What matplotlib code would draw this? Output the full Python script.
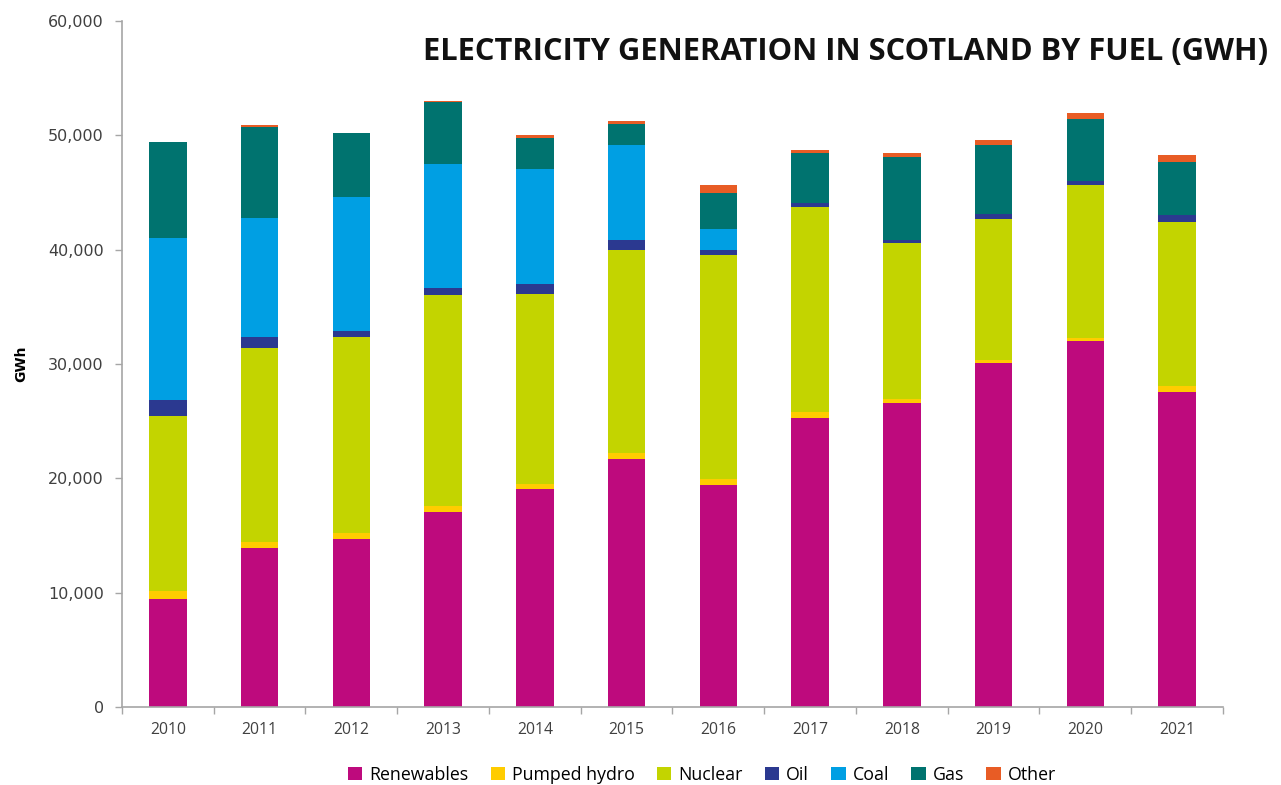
import numpy as np
import matplotlib
matplotlib.use("Agg")
import matplotlib.pyplot as plt
from matplotlib.patches import Patch
from matplotlib.ticker import FuncFormatter, FixedLocator

years = ['2010', '2011', '2012', '2013', '2014', '2015',
         '2016', '2017', '2018', '2019', '2020', '2021']

# GWh
renewables   = [9450, 13880, 14660, 17030, 19070, 21720, 19420, 25250, 26620, 30120, 32040, 27580]
pumped_hydro = [720, 520, 530, 520, 430, 500, 520, 550, 320, 230, 260, 500]
nuclear      = [15280, 16970, 17150, 18490, 16620, 17750, 19590, 17900, 13670, 12300, 13360, 14370]
oil          = [1400, 970, 570, 640, 880, 880, 440, 350, 240, 440, 350, 580]
coal         = [14150, 10400, 11670, 10810, 10090, 8300, 1810, 0, 0, 0, 0, 0]
gas          = [8400, 8030, 5600, 5390, 2650, 1870, 3150, 4370, 7280, 6060, 5420, 4670]
other        = [60, 100, 60, 100, 260, 240, 730, 320, 360, 440, 500, 550]

series = [
    ('Renewables', renewables, '#BE0A7D'),
    ('Pumped hydro', pumped_hydro, '#FFCC00'),
    ('Nuclear', nuclear, '#C3D400'),
    ('Oil', oil, '#2B3990'),
    ('Coal', coal, '#009FE3'),
    ('Gas', gas, '#00736F'),
    ('Other', other, '#E85C25'),
]

fig = plt.figure(figsize=(12.81, 7.85), dpi=100)
ax = fig.add_axes([0.0952, 0.0994, 0.8595, 0.8738])

x = np.arange(len(years))
bottom = np.zeros(len(years))
for name, vals, col in series:
    vals = np.array(vals, dtype=float)
    ax.bar(x, vals, width=0.41, bottom=bottom, color=col, label=name, linewidth=0)
    bottom += vals

ax.set_xlim(-0.5, len(years) - 0.5)
ax.set_ylim(0, 60000)
ax.set_yticks(np.arange(0, 60001, 10000))
ax.yaxis.set_major_formatter(FuncFormatter(lambda v, p: f'{int(v):,}'))

ax.set_xticks(x)
ax.set_xticklabels(years, fontfamily='Open Sans', fontsize=11.3, color='#404040')
ax.xaxis.set_minor_locator(FixedLocator(np.arange(-0.5, len(years), 1)))
ax.tick_params(axis='x', which='major', length=0, pad=11)
ax.tick_params(axis='x', which='minor', length=5, color='#A6A6A6', width=1)
ax.tick_params(axis='y', length=5, color='#A6A6A6', width=1, labelsize=11.5,
               labelcolor='#404040', pad=8)

for s in ['top', 'right']:
    ax.spines[s].set_visible(False)
for s in ['left', 'bottom']:
    ax.spines[s].set_color('#A6A6A6')
    ax.spines[s].set_linewidth(1.2)

ax.set_ylabel('GWh', fontsize=10, fontweight='bold', labelpad=14)

fig.text(0.99, 0.934, 'ELECTRICITY GENERATION IN SCOTLAND BY FUEL (GWH)',
         ha='right', va='center', fontfamily='Open Sans', fontweight='bold',
         fontsize=22.2, color='#111111')

handles = [Patch(facecolor=c, label=n) for n, _, c in series]
fig.legend(handles=handles, loc='center', bbox_to_anchor=(0.548, 0.013),
           ncol=7, frameon=False, handlelength=0.8, handleheight=0.8,
           handletextpad=0.4, columnspacing=1.25,
           prop={'family': 'Open Sans', 'size': 12.8})

fig.savefig('out.png', dpi=100)
